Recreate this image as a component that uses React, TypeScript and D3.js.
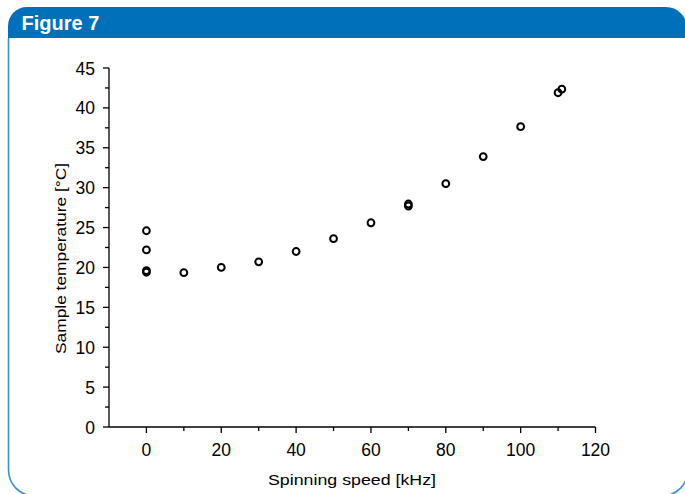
import React from "react";
import * as d3 from "d3";

const speeds = [0, 0, 0, 0, 10, 20, 30, 40, 50, 60, 70, 70, 80, 90, 100, 110, 111];
const temps = [24.6, 22.2, 19.6, 19.4, 19.35, 20.0, 20.7, 22.0, 23.6, 25.6, 27.95, 27.7, 30.5, 33.9, 37.65, 41.9, 42.35];
const xMajorTicks = [0, 20, 40, 60, 80, 100, 120];
const xMinorTicks = [10, 30, 50, 70, 90, 110];
const yMajorTicks = [0, 5, 10, 15, 20, 25, 30, 35, 40, 45];
const yMinorTicks = [2.5, 7.5, 12.5, 17.5, 22.5, 27.5, 32.5, 37.5, 42.5];

const W = 685;
const H = 494;

export default function App() {
  const x = d3.scaleLinear().domain([-10, 120]).range([109, 595.5]);
  const y = d3.scaleLinear().domain([0, 45]).range([427, 68]);
  const font = "'Liberation Sans', Arial, sans-serif";
  const blue = "#0070bb";
  const pts = speeds.map((s, i) => ({ s, t: temps[i] }));
  return (
    <svg
      width={W}
      height={H}
      style={{ position: "absolute", left: 0, top: 0, display: "block" }}
    >
      <rect x={0} y={0} width={W} height={H} fill="#fff" />
      {/* frame */}
      <path
        d={`M8.5,38 L8.5,470 A26,26 0 0 0 34.5,496 L662,496 A26,26 0 0 0 688,470 L688,38`}
        fill="none"
        stroke="#3990d2"
        strokeWidth={1.6}
      />
      <path
        d={`M8,38 L8,26 A19,19 0 0 1 27,7 L666,7 A21,21 0 0 1 687,28 L687,38 Z`}
        fill={blue}
      />
      <text
        x={21.5}
        y={29.5}
        fill="#fff"
        fontFamily="'Liberation Sans', Arial, sans-serif"
        fontWeight="bold"
        fontSize={20}
      >
        Figure 7
      </text>

      {/* axes */}
      <line x1={x(-10)} x2={x(120)} y1={y(0)} y2={y(0)} stroke="#000" strokeWidth={1.3} />
      <line x1={x(-10)} x2={x(-10)} y1={y(0)} y2={y(45)} stroke="#000" strokeWidth={1.3} />
      {xMajorTicks.map((v) => (
        <g key={"xM" + v}>
          <line x1={x(v)} x2={x(v)} y1={y(0)} y2={y(0) + 6} stroke="#000" strokeWidth={1.3} />
          <text
            x={x(v)}
            y={456}
            textAnchor="middle"
            fontFamily={font}
            fontSize={17.5}
            fill="#000"
          >
            {v}
          </text>
        </g>
      ))}
      {xMinorTicks.map((v) => (
        <line key={"xm" + v} x1={x(v)} x2={x(v)} y1={y(0)} y2={y(0) + 4} stroke="#000" strokeWidth={1.3} />
      ))}
      {yMajorTicks.map((v) => (
        <g key={"yM" + v}>
          <line x1={x(-10) - 6} x2={x(-10)} y1={y(v)} y2={y(v)} stroke="#000" strokeWidth={1.3} />
          <text
            x={95}
            y={y(v) + 6.5}
            textAnchor="end"
            fontFamily={font}
            fontSize={17.5}
            fill="#000"
          >
            {v}
          </text>
        </g>
      ))}
      {yMinorTicks.map((v) => (
        <line key={"ym" + v} x1={x(-10) - 4} x2={x(-10)} y1={y(v)} y2={y(v)} stroke="#000" strokeWidth={1.3} />
      ))}

      {/* axis titles */}
      <text
        x={352}
        y={485}
        textAnchor="middle"
        fontFamily={font}
        fontSize={15.5}
        fill="#000"
        textLength={168}
        lengthAdjust="spacingAndGlyphs"
      >
        Spinning speed [kHz]
      </text>
      <text
        transform={`translate(66,258.5) rotate(-90)`}
        textAnchor="middle"
        fontFamily={font}
        fontSize={15}
        fill="#000"
        textLength={191}
        lengthAdjust="spacingAndGlyphs"
      >
        Sample temperature [°C]
      </text>

      {/* points */}
      {pts.map((p, i) => (
        <circle
          key={i}
          cx={x(p.s)}
          cy={y(p.t)}
          r={3.4}
          fill="none"
          stroke="#000"
          strokeWidth={2}
        />
      ))}
    </svg>
  );
}
